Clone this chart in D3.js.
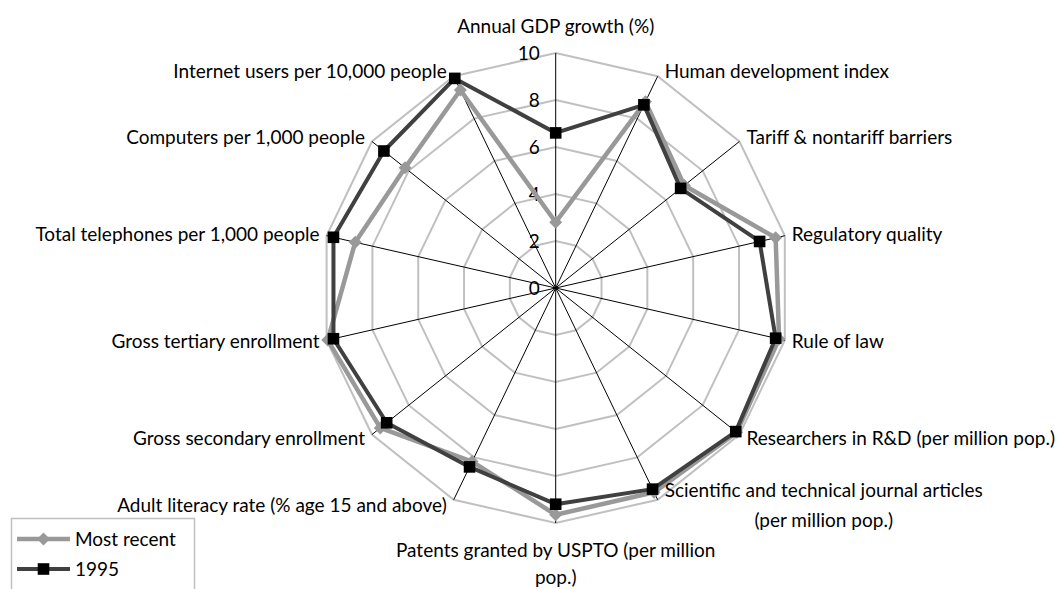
<!DOCTYPE html>
<html>
<head>
<meta charset="utf-8">
<script src="https://cdn.jsdelivr.net/npm/d3@7"></script>
<style>
  html, body { margin: 0; padding: 0; background: #fff; }
  svg { display: block; }
  text { font-family: Lato, "Open Sans", "Liberation Sans", sans-serif; fill: #000; }
</style>
</head>
<body>
<svg id="chart" width="1060" height="589"></svg>
<script>
// Indicator names, clockwise from the top ("\n" marks a line break)
const indicators = [
  "Annual GDP growth (%)",
  "Human development index",
  "Tariff & nontariff barriers",
  "Regulatory quality",
  "Rule of law",
  "Researchers in R&D (per million pop.)",
  "Scientific and technical journal articles\n(per million pop.)",
  "Patents granted by USPTO (per million\npop.)",
  "Adult literacy rate (% age 15 and above)",
  "Gross secondary enrollment",
  "Gross tertiary enrollment",
  "Total telephones per 1,000 people",
  "Computers per 1,000 people",
  "Internet users per 10,000 people"
];

// Normalised scores (0-10)
const mostRecent = [2.8, 8.8, 7.0, 9.6, 9.75, 9.85, 9.65, 9.65, 8.2, 9.55, 9.95, 8.75, 8.2, 9.35];
const year1995   = [6.6, 8.65, 6.8, 8.9, 9.6, 9.8, 9.5, 9.2, 8.45, 9.2, 9.7, 9.7, 9.35, 9.9];

const seriesNames = ["Most recent", "1995"];
const tickValues = [0, 2, 4, 6, 8, 10];

const svg = d3.select("#chart");
const cx = 555.7, cy = 288, R = 235;
const fontSize = 19;
const n = indicators.length;

const r = d3.scaleLinear().domain([0, 10]).range([0, R]);
const angle = d3.scaleLinear().domain([0, n]).range([0, 2 * Math.PI]);

const pt = (i, v) => {
  const a = angle(i);
  return [cx + r(v) * Math.sin(a), cy - r(v) * Math.cos(a)];
};

const g = svg.append("g");

// Concentric polygon gridlines
const ringLine = d3.line();
g.append("g").selectAll("path")
  .data(tickValues.filter(t => t > 0))
  .join("path")
  .attr("d", t => ringLine(d3.range(n).map(i => pt(i, t))) + "Z")
  .attr("fill", "none")
  .attr("stroke", "#c0c0c0")
  .attr("stroke-width", 2);

// Spokes
g.append("g").selectAll("line")
  .data(d3.range(n))
  .join("line")
  .attr("x1", cx).attr("y1", cy)
  .attr("x2", i => pt(i, 10)[0])
  .attr("y2", i => pt(i, 10)[1])
  .attr("stroke", "#000")
  .attr("stroke-width", 1);

// Value ticks along the top spoke
g.append("g").selectAll("text")
  .data(tickValues)
  .join("text")
  .attr("x", cx - 16)
  .attr("y", t => pt(0, t)[1] + fontSize * 0.35)
  .attr("text-anchor", "end")
  .attr("font-size", fontSize)
  .text(t => t);

// Series
const series = [
  { name: seriesNames[0], values: mostRecent, color: "#999999", width: 4.5, marker: "diamond", markerColor: "#999999" },
  { name: seriesNames[1], values: year1995, color: "#404040", width: 4, marker: "square", markerColor: "#000000" }
];

const markerPath = {
  diamond: "M0,-6.5L6.5,0L0,6.5L-6.5,0Z",
  square: "M-5.8,-5.8H5.8V5.8H-5.8Z"
};

const radial = d3.lineRadial()
  .angle((d, i) => angle(i))
  .radius(d => r(d))
  .curve(d3.curveLinearClosed);

series.forEach(s => {
  const sg = g.append("g").attr("transform", `translate(${cx},${cy})`);
  sg.append("path")
    .attr("d", radial(s.values))
    .attr("fill", "none")
    .attr("stroke", s.color)
    .attr("stroke-width", s.width)
    .attr("stroke-linejoin", "round");
});
series.forEach(s => {
  g.append("g").selectAll("path")
    .data(s.values)
    .join("path")
    .attr("transform", (v, i) => `translate(${pt(i, v)[0]},${pt(i, v)[1]})`)
    .attr("d", markerPath[s.marker])
    .attr("fill", s.markerColor);
});

// Category labels around the outer ring
const lineH = 29.5;
const lab = g.append("g");
indicators.forEach((name, i) => {
  const a = angle(i);
  const s = Math.sin(a), c = Math.cos(a);
  const [vx, vy] = pt(i, 10);
  const lines = name.split("\n");
  const t = lab.append("text").attr("font-size", fontSize);
  lines.forEach(l => t.append("tspan").text(l));
  const tspans = t.selectAll("tspan");
  if (Math.abs(s) < 0.01) {
    // top or bottom of the web
    const lh = c > 0 ? lineH : 26.5;
    const firstBase = c > 0 ? vy - 20 - (lines.length - 1) * lh : vy + 34;
    t.attr("text-anchor", "middle");
    tspans.attr("x", vx).attr("y", (d, k) => firstBase + k * lh);
  } else {
    const centre = vy - 6 * c;
    const firstBase = centre - (lines.length - 1) * lineH / 2 + fontSize * 0.35;
    if (lines.length === 1) {
      t.attr("text-anchor", s > 0 ? "start" : "end");
      tspans.attr("x", vx + (s > 0 ? 7 : -7)).attr("y", firstBase);
    } else {
      let w = 0;
      tspans.each(function () { w = Math.max(w, this.getComputedTextLength()); });
      const mid = s > 0 ? vx + 7 + w / 2 : vx - 7 - w / 2;
      t.attr("text-anchor", "middle");
      tspans.attr("x", mid).attr("y", (d, k) => firstBase + k * lineH);
    }
  }
});

// Legend
const lg = svg.append("g");
lg.append("rect")
  .attr("x", 11.5).attr("y", 518.5)
  .attr("width", 183).attr("height", 90)
  .attr("fill", "#fff")
  .attr("stroke", "#c0c0c0")
  .attr("stroke-width", 1.5);
series.forEach((s, k) => {
  const y = 539 + k * 30;
  lg.append("line")
    .attr("x1", 17).attr("x2", 70)
    .attr("y1", y).attr("y2", y)
    .attr("stroke", s.color)
    .attr("stroke-width", s.width);
  lg.append("path")
    .attr("transform", `translate(43.5,${y})`)
    .attr("d", markerPath[s.marker])
    .attr("fill", s.markerColor);
  lg.append("text")
    .attr("x", 75)
    .attr("y", y + fontSize * 0.35)
    .attr("font-size", fontSize)
    .text(s.name);
});
</script>
</body>
</html>
